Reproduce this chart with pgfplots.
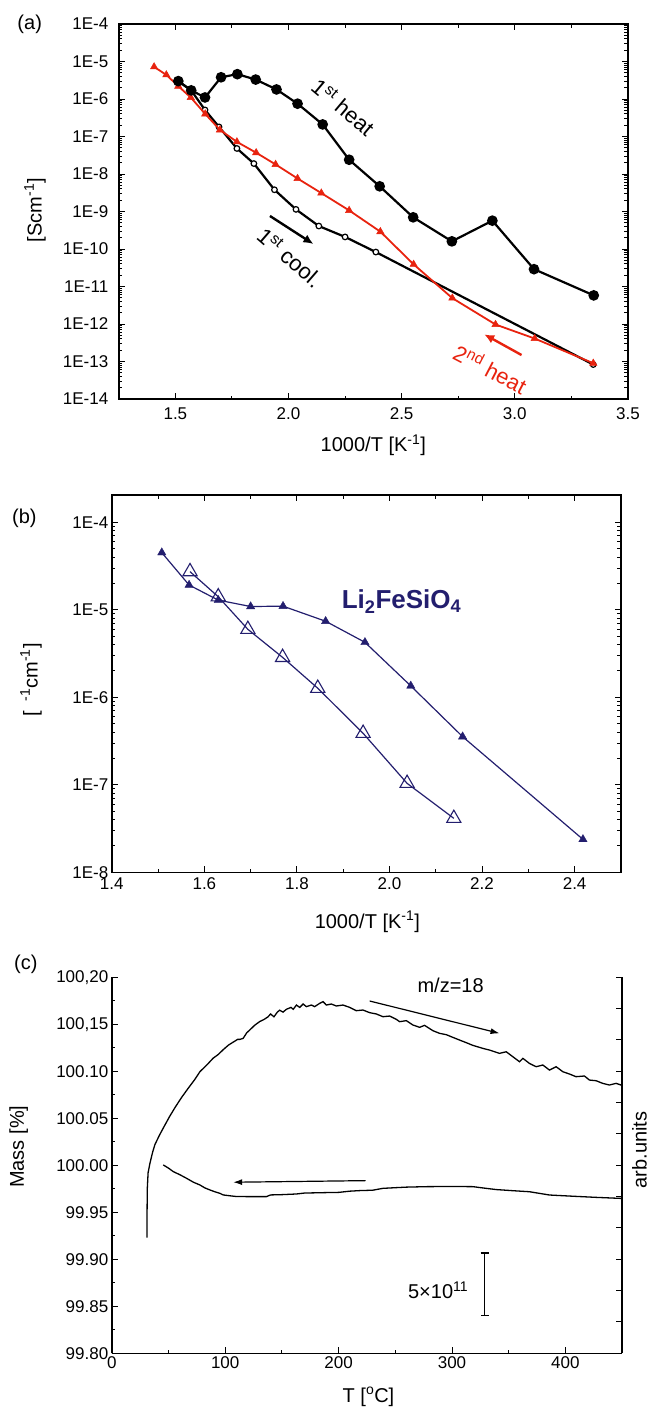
\documentclass[border=0pt]{standalone}
\usepackage{fontspec}
\setmainfont{Liberation Sans}
\usepackage{pgfplots}
\pgfplotsset{compat=1.18}
\usetikzlibrary{arrows.meta}

\definecolor{heatred}{RGB}{232,35,15}
\definecolor{navy}{RGB}{35,30,110}

% minor ticks at 2..9 x 10^k for the log axes
\def\minorA{2e-14}
\foreach \m in {3,...,9}{\xdef\minorA{\minorA,\m e-14}}
\foreach \e in {-13,...,-5}{\foreach \m in {2,...,9}{\xdef\minorA{\minorA,\m e\e}}}
\def\minorB{2e-8}
\foreach \m in {3,...,9}{\xdef\minorB{\minorB,\m e-8}}
\foreach \e in {-7,...,-5}{\foreach \m in {2,...,9}{\xdef\minorB{\minorB,\m e\e}}}

\pgfplotsset{
  panel/.style={
    scale only axis, anchor=south west, clip mode=individual,
    tick align=inside,
    tick label style={font=\fontsize{17}{20}\selectfont},
    label style={font=\fontsize{20}{24}\selectfont},
    axis line style={line width=1.4pt},
    every tick/.style={line width=1pt, black},
    major tick length=6pt, minor tick length=3.5pt,
  },
}

% ---- data ----
\pgfplotstableread{
x y
1.513 3.0e-6
1.570 1.7e-6
1.631 1.1e-6
1.702 3.8e-6
1.774 4.6e-6
1.855 3.3e-6
1.947 1.8e-6
2.040 7.5e-7
2.151 2.1e-7
2.268 2.4e-8
2.403 4.7e-9
2.551 7.0e-10
2.722 1.6e-10
2.901 5.7e-10
3.085 2.9e-11
3.349 5.8e-12
}\firstheat

\pgfplotstableread{
x y
1.513 3.0e-6
1.570 1.7e-6
1.631 5.1e-7
1.693 1.8e-7
1.772 4.8e-8
1.847 1.9e-8
1.938 3.8e-9
2.033 1.14e-9
2.134 4.1e-10
2.250 2.1e-10
2.386 8.3e-11
3.347 8.3e-14
}\firstcool

\pgfplotstableread{
x y
1.406 7.2e-6
1.460 4.4e-6
1.513 2.2e-6
1.568 1.1e-6
1.632 4.0e-7
1.697 1.5e-7
1.772 7.2e-8
1.857 3.7e-8
1.943 1.8e-8
2.040 7.6e-9
2.145 3.1e-9
2.268 1.07e-9
2.406 2.9e-10
2.553 3.9e-11
2.724 4.9e-12
2.915 9.7e-13
3.088 4.1e-13
3.347 9.0e-14
}\secondheat

\pgfplotstableread{
x y
1.508 4.5e-5
1.567 1.92e-5
1.630 1.29e-5
1.700 1.09e-5
1.770 1.10e-5
1.862 7.4e-6
1.947 4.25e-6
2.046 1.35e-6
2.158 3.55e-7
2.418 2.38e-8
}\lfsheat

\pgfplotstableread{
x y
1.569 2.73e-5
1.630 1.41e-5
1.694 5.98e-6
1.769 2.86e-6
1.845 1.27e-6
1.943 3.88e-7
2.038 1.04e-7
2.139 4.14e-8
}\lfscool

\pgfplotstableread{
T m
31.0 99.923
31.1 99.950
31.3 99.975
32.0 99.992
33.6 100.002
36.0 100.014
38.0 100.022
42.0 100.032
46.0 100.041
51.0 100.052
56.0 100.062
62.0 100.073
68.0 100.083
73.0 100.091
77.7 100.0996
84.0 100.107
89.4 100.114
94.0 100.118
98.2 100.123
103.0 100.128
107.0 100.131
111.0 100.134
113.0 100.134
115.8 100.135
119.0 100.141
121.7 100.144
126.0 100.149
130.5 100.153
134.0 100.155
137.8 100.158
140.0 100.161
143.0 100.158
146.0 100.163
148.0 100.165
151.0 100.163
154.0 100.166
158.0 100.168
160.0 100.166
162.8 100.1705
165.7 100.168
168.7 100.1716
171.6 100.1688
176.0 100.1705
178.9 100.1688
183.3 100.1723
186.3 100.1741
189.2 100.1705
193.6 100.1716
198.0 100.1695
203.9 100.1705
209.8 100.168
215.6 100.1645
221.5 100.1652
227.4 100.1624
233.3 100.161
239.1 100.1581
245.0 100.1588
250.9 100.1553
253.8 100.1528
259.7 100.1539
265.5 100.1493
271.4 100.1468
275.8 100.1489
283.2 100.1432
289.0 100.1404
294.9 100.139
300.8 100.1361
306.6 100.1333
312.5 100.1305
318.4 100.1276
324.2 100.1255
327.2 100.1244
333.1 100.1226
341.9 100.1191
347.8 100.1208
353.7 100.1155
359.5 100.1102
362.5 100.1138
368.3 100.1084
374.2 100.1049
380.1 100.1067
386.0 100.1013
391.8 100.1049
397.7 100.0996
403.6 100.0971
409.4 100.0943
416.8 100.095
421.2 100.0907
427.1 100.09
432.9 100.0872
438.8 100.0854
444.7 100.0872
449.1 100.0854
450.0 100.084
}\msignal

\pgfplotstableread{
T m
45.4 100.0004
50.0 99.997
54.2 99.9933
60.0 99.990
65.9 99.9862
72.0 99.982
77.7 99.9791
82.0 99.976
86.5 99.9738
91.0 99.9718
95.3 99.9702
98.2 99.9685
104.0 99.9676
110.0 99.9668
120.0 99.9667
136.4 99.9667
140.0 99.9685
150.0 99.9688
162.8 99.9695
170.0 99.9705
190.0 99.971
200.0 99.9712
210.0 99.9725
218.6 99.9731
230.0 99.9735
239.1 99.9755
250.0 99.9762
260.0 99.9768
277.3 99.9773
300.0 99.9775
318.4 99.9773
330.0 99.9755
339.0 99.9742
353.7 99.973
368.3 99.9719
386.0 99.9684
403.6 99.9673
427.1 99.9659
449.1 99.9648
}\mass

\begin{document}
\begin{tikzpicture}
\useasboundingbox (0pt,-1408pt) rectangle (649pt,0pt);

% ===== (a) conductivity vs 1000/T =====
\begin{axis}[panel, at={(118.8pt,-399pt)}, width=509.1pt, height=375pt,
  ymode=log, xmin=1.25, xmax=3.5, ymin=1e-14, ymax=1e-4,
  axis line style={line width=1.8pt},
  xtick={1.5,2.0,2.5,3.0,3.5}, xticklabels={1.5,2.0,2.5,3.0,3.5},
  minor x tick num=1,
  ytick={1e-14,1e-13,1e-12,1e-11,1e-10,1e-9,1e-8,1e-7,1e-6,1e-5,1e-4},
  yticklabels={1E-14,1E-13,1E-12,1E-11,1E-10,1E-9,1E-8,1E-7,1E-6,1E-5,1E-4},
  minor ytick/.expanded={\minorA},
  yticklabel style={xshift=-7pt}, xticklabel style={yshift=-5pt},
  xlabel={1000/T [K\textsuperscript{-1}]},
  xlabel style={at={(axis description cs:0.5,-0.1227)}, anchor=center},
  ylabel={[Scm\textsuperscript{-1}]},
  ylabel style={at={(axis description cs:-0.1646,0.504)}, anchor=center},
]
\addplot[black, line width=2.2pt, mark=*, mark size=2.8pt,
  mark options={fill=white, line width=1.2pt}] table {\firstcool};
\addplot[heatred, line width=1.8pt, mark=triangle*, mark size=4.2pt,
  mark options={fill=heatred, line width=0.5pt}] table {\secondheat};
\addplot[black, line width=2.2pt, mark=*, mark size=4.2pt,
  mark options={fill=black}] table {\firstheat};

\node[rotate=-40, font=\fontsize{22}{24}\selectfont]
  at (axis cs:2.243,6.2e-7) {1\textsuperscript{st} heat};
\draw[black, line width=2.4pt, -{Latex[length=10pt,width=9pt]}]
  (axis cs:1.918,7.6e-10) -- (axis cs:2.110,1.36e-10);
\node[rotate=-41, font=\fontsize{22}{24}\selectfont]
  at (axis cs:2.007,6.0e-11) {1\textsuperscript{st} cool.};
\node[rotate=-27.5, text=heatred, font=\fontsize{22}{24}\selectfont]
  at (axis cs:2.893,6.5e-14) {2\textsuperscript{nd} heat};
\draw[heatred, line width=2.4pt, -{Latex[length=10pt,width=9pt]}]
  (axis cs:3.030,1.49e-13) -- (axis cs:2.865,5.3e-13);
\end{axis}

% ===== (b) Li2FeSiO4 =====
\begin{axis}[panel, at={(111.8pt,-872.3pt)}, width=509.1pt, height=377.3pt,
  ymode=log, xmin=1.4, xmax=2.5, ymin=1e-8, ymax=2.05e-4,
  xtick={1.4,1.6,1.8,2.0,2.2,2.4}, xticklabels={1.4,1.6,1.8,2.0,2.2,2.4},
  minor x tick num=1,
  ytick={1e-8,1e-7,1e-6,1e-5,1e-4},
  yticklabels={1E-8,1E-7,1E-6,1E-5,1E-4},
  minor ytick/.expanded={\minorB},
  xticklabel style={yshift=-2pt},
  xlabel={1000/T [K\textsuperscript{-1}]},
  xlabel style={at={(axis description cs:0.502,-0.131)}, anchor=center},
  ylabel={[\hspace{0.5em}\textsuperscript{-1}cm\textsuperscript{-1}]},
  ylabel style={at={(axis description cs:-0.1587,0.5097)}, anchor=center},
]
\addplot[navy, line width=1.2pt, mark=triangle*, mark size=4.8pt,
  mark options={fill=navy, line width=0.4pt}] table {\lfsheat};
\addplot[navy, line width=1.2pt, mark=triangle, mark size=8.2pt,
  mark options={fill=white, line width=1.1pt}] table {\lfscool};
\node[text=navy, font=\bfseries\fontsize{26}{28}\selectfont]
  at (axis cs:2.026,1.24e-5) {Li\textsubscript{2}FeSiO\textsubscript{4}};
\end{axis}

% ===== (c) thermogravimetry and m/z = 18 =====
\begin{axis}[panel, at={(111.8pt,-1353.3pt)}, width=510.3pt, height=376pt,
  axis x line*=bottom, axis y line*=left, axis line style={-},
  tick align=inside,
  xmin=0, xmax=450, ymin=99.80, ymax=100.20,
  xtick={0,100,200,300,400}, xticklabels={0,100,200,300,400},
  minor x tick num=1,
  ytick={99.80,99.85,99.90,99.95,100.00,100.05,100.10,100.15,100.20},
  yticklabels={99.80,99.85,99.90,99.95,100.00,100.05,100.10,{100,15},{100,20}},
  minor y tick num=1,
  xlabel={T [\textsuperscript{o}C]},
  xlabel style={at={(axis description cs:0.503,-0.1154)}, anchor=center},
  ylabel={Mass [\%]},
  ylabel style={at={(axis description cs:-0.1826,0.5495)}, anchor=center},
]
\addplot[black, line width=1.3pt] table {\msignal};
\addplot[black, line width=1.3pt] table {\mass};
\draw[black, line width=1.2pt, -{Latex[length=9pt,width=6pt]}]
  (axis cs:227.4,100.1748) -- (axis cs:341.9,100.1404);
\draw[black, line width=1.2pt, -{Latex[length=9pt,width=6pt]}]
  (axis cs:223.9,99.9837) -- (axis cs:107,99.982);
\draw[black, line width=1.2pt, {Bar[width=8pt]}-{Bar[width=8pt]}]
  (axis cs:328.7,99.9074) -- (axis cs:328.7,99.840);
\node[font=\fontsize{20}{24}\selectfont] at (axis cs:298.8,100.1918) {m/z=18};
\node[font=\fontsize{20}{24}\selectfont] at (axis cs:287.8,99.8673) {5\texttimes10\textsuperscript{11}};
\end{axis}
\begin{axis}[panel, at={(111.8pt,-1353.3pt)}, width=510.3pt, height=376pt,
  axis x line=none, axis y line*=right, axis line style={-},
  tick align=inside,
  xmin=0, xmax=450, ymin=0, ymax=12,
  ytick={0,1,...,12}, yticklabels={},
  ylabel={arb.units},
  ylabel style={at={(axis description cs:1.034,0.5407)}, anchor=center},
]
\end{axis}

\node[font=\fontsize{20}{24}\selectfont] at (29.7pt,-24pt) {(a)};
\node[font=\fontsize{20}{24}\selectfont] at (24.4pt,-518pt) {(b)};
\node[font=\fontsize{20}{24}\selectfont] at (25.9pt,-964pt) {(c)};
\end{tikzpicture}
\end{document}
